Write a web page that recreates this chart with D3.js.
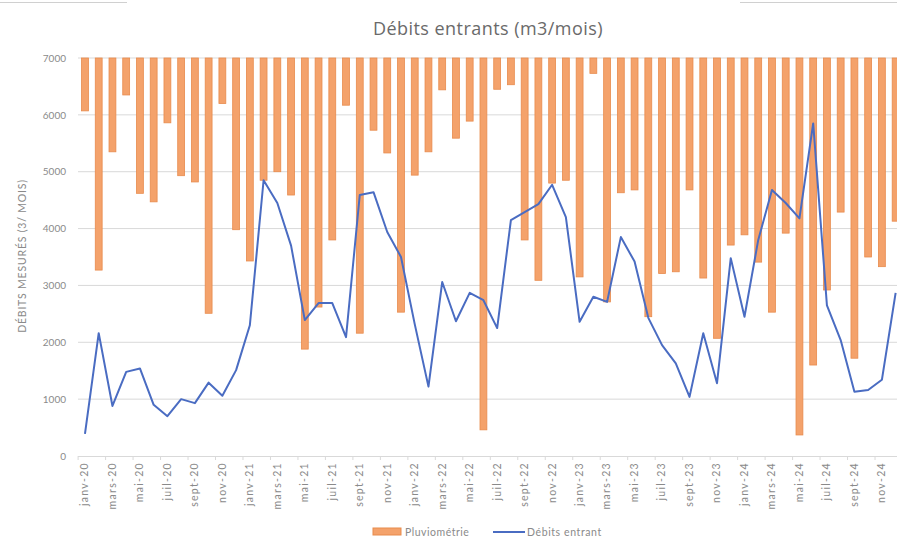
<!DOCTYPE html>
<html><head><meta charset="utf-8">
<script src="https://cdn.jsdelivr.net/npm/d3@7"></script>
<style>
html,body{margin:0;padding:0;background:#fff;overflow:hidden;}
svg{display:block;font-family:Lato,"Open Sans",sans-serif;}
</style></head>
<body><svg id="c" width="897" height="547"></svg>
<script>
const monthNames = ["janv","févr","mars","avr","mai","juin","juil","août","sept","oct","nov","déc"];
const years = ["20","21","22","23","24"];
const categories = [];
years.forEach(y => monthNames.forEach(m => categories.push(m + "-" + y)));

// Bar end level on the axis (bars hang from the 7000 line)
const pluviometrie = [
 6070,3270,5350,6350,4620,4470,5860,4930,4820,2510,6200,3980,
 3430,4850,5000,4590,1880,2620,3800,6170,2160,5730,5330,2530,
 4940,5350,6440,5590,5890,460,6450,6530,3800,3090,4800,4850,
 3150,6730,2710,4630,4680,2450,3210,3240,4680,3130,2070,3710,
 3890,3410,2530,3920,370,1600,2920,4290,1720,3500,3330,4130
];
const debitsEntrant = [
 390,2160,880,1480,1540,900,700,1000,930,1290,1060,1510,
 2300,4850,4450,3700,2390,2690,2690,2090,4590,4640,3940,3500,
 2320,1220,3060,2370,2870,2740,2250,4150,4290,4430,4770,4200,
 2360,2800,2710,3850,3420,2430,1950,1630,1040,2160,1280,3480,
 2450,3800,4680,4450,4180,5850,2650,2040,1130,1160,1340,2870
];
const yTicks = [0,1000,2000,3000,4000,5000,6000,7000];
const tickLabels = categories.filter((d,i) => i % 2 === 0);
const barTop = 7000;

const svg = d3.select("#c");
const x = d3.scaleBand().domain(categories).range([78.1, 902.5]).paddingInner(0.5).paddingOuter(0.25);
const y = d3.scaleLinear().domain([0,7000]).range([456,58]);

// decorative frame fragments at top
svg.append("line").attr("x1",0).attr("x2",127).attr("y1",2.5).attr("y2",2.5).attr("stroke","#d0d0d0");
svg.append("line").attr("x1",740).attr("x2",897).attr("y1",2.5).attr("y2",2.5).attr("stroke","#d0d0d0");

// title
svg.append("text").attr("x",488).attr("y",35).attr("text-anchor","middle")
  .attr("font-family","'Open Sans',sans-serif").attr("letter-spacing",0.45)
  .attr("font-size",18).attr("fill","#6a6a6a").text("Débits entrants (m3/mois)");

// gridlines
svg.append("g").selectAll("line").data(yTicks.filter(d=>d>0)).join("line")
  .attr("x1",78).attr("x2",897).attr("y1",d=>y(d)).attr("y2",d=>y(d))
  .attr("stroke","#d9d9d9").attr("stroke-width",1);

// y axis labels
const yAxis = d3.axisLeft(y).tickValues(yTicks).tickFormat(d3.format("d")).tickSize(0).tickPadding(0);
const gy = svg.append("g").attr("transform","translate(66,0)").call(yAxis);
gy.select(".domain").remove();
gy.selectAll("text").attr("font-size",10).attr("fill","#8a8a8a").attr("font-family","Lato,'Open Sans',sans-serif");

// y axis title
svg.append("text").attr("transform","translate(26,256) rotate(-90)").attr("text-anchor","middle")
  .attr("font-size",10.5).attr("letter-spacing",0.8).attr("fill","#8a8a8a").text("DÉBITS MESURÉS (3/ MOIS)");

// bars
svg.append("g").selectAll("rect").data(pluviometrie).join("rect")
  .attr("x",(d,i)=>x(categories[i]))
  .attr("width",x.bandwidth())
  .attr("y",y(barTop))
  .attr("height",d=>y(d)-y(barTop))
  .attr("fill","#F4A26B").attr("stroke","#E88B4D").attr("stroke-width",0.8);

// x axis
const xAxis = d3.axisBottom(x).tickValues(tickLabels).tickSize(4).tickPadding(3);
const gx = svg.append("g").attr("transform","translate(0,456)").call(xAxis);
gx.select(".domain").attr("stroke","#d9d9d9").attr("d","M78,0.5H897");
gx.selectAll(".tick line").attr("stroke","#d9d9d9").attr("transform",`translate(${-x.step()/2},0)`);
gx.selectAll("text").attr("font-size",10.5).attr("letter-spacing",1.3).attr("fill","#8a8a8a")
  .attr("font-family","Lato,'Open Sans',sans-serif")
  .attr("transform","rotate(-90)").attr("text-anchor","end")
  .attr("x",-6).attr("y",0).attr("dy","0.32em");

// line
const line = d3.line().x((d,i)=>x(categories[i])+x.bandwidth()/2).y(d=>y(d));
svg.append("path").datum(debitsEntrant).attr("d",line)
  .attr("fill","none").attr("stroke","#4A6CC2").attr("stroke-width",2).attr("stroke-linejoin","round");

// legend
const lg = svg.append("g");
lg.append("rect").attr("x",373).attr("y",528).attr("width",28).attr("height",7).attr("fill","#F4A26B").attr("stroke","#E88B4D");
lg.append("text").attr("x",405).attr("y",535.5).attr("font-size",10.5).attr("letter-spacing",0.5).attr("fill","#8a8a8a").text("Pluviométrie");
lg.append("line").attr("x1",493).attr("x2",525).attr("y1",532).attr("y2",532).attr("stroke","#4A6CC2").attr("stroke-width",2);
lg.append("text").attr("x",527).attr("y",535.5).attr("font-size",10.5).attr("letter-spacing",0.6).attr("fill","#8a8a8a").text("Débits entrant");
</script></body></html>
